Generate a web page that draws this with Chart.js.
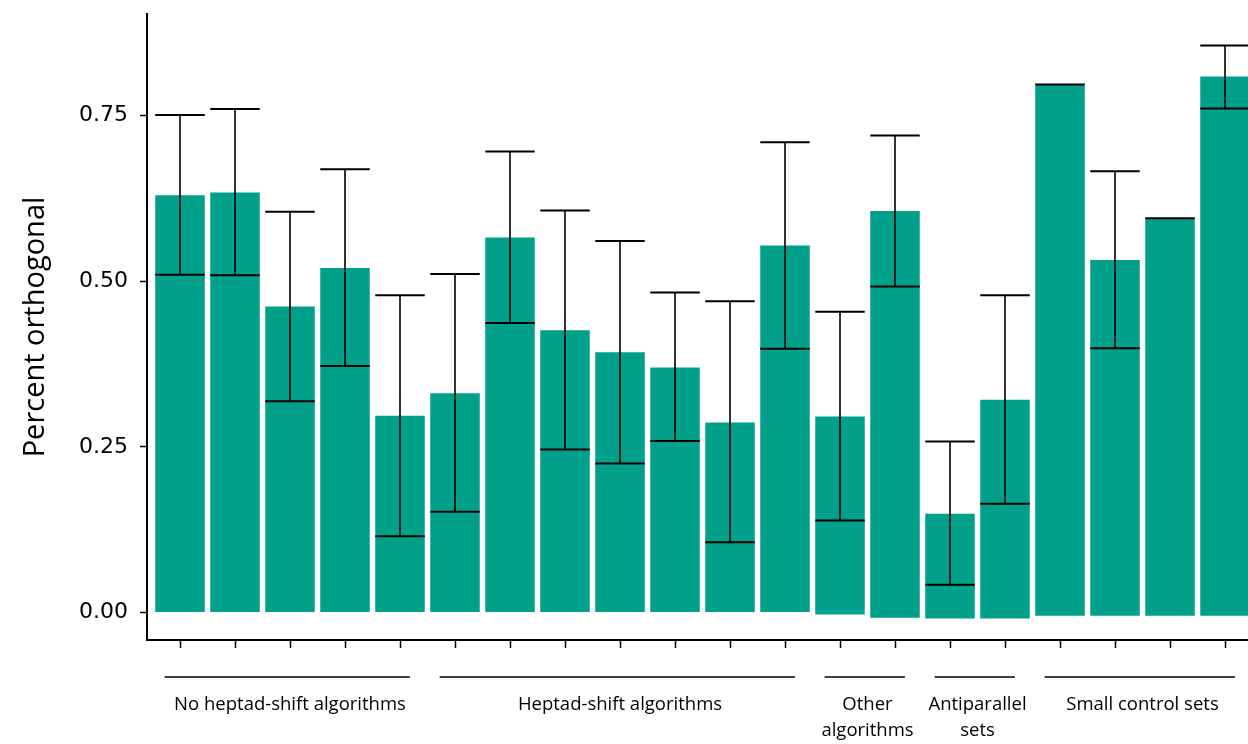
<!DOCTYPE html>
<html>
<head>
<meta charset="utf-8">
<title>Percent orthogonal by design set</title>
<script src="https://cdn.jsdelivr.net/npm/chart.js@4/dist/chart.umd.min.js"></script>
<style>
  html, body { margin: 0; padding: 0; background: #ffffff; overflow: hidden; }
  #wrap { width: 1248px; height: 744px; }
</style>
</head>
<body>
<div id="wrap"><canvas id="chart" width="1248" height="744"></canvas></div>
<script>
// Mean fraction of orthogonal pairs per design set, with interval bounds
const meanValues = [0.630, 0.634, 0.462, 0.520, 0.297, 0.331, 0.566, 0.426, 0.393, 0.370,
                    0.287, 0.554, 0.296, 0.606, 0.149, 0.321, 0.797, 0.532, 0.595, 0.809];
const errLow     = [0.510, 0.509, 0.319, 0.372, 0.115, 0.152, 0.437, 0.246, 0.225, 0.259,
                    0.106, 0.398, 0.139, 0.492, 0.042, 0.164, 0.797, 0.399, 0.595, 0.761];
const errHigh    = [0.751, 0.760, 0.605, 0.669, 0.479, 0.511, 0.696, 0.607, 0.561, 0.483,
                    0.470, 0.710, 0.454, 0.720, 0.258, 0.479, 0.797, 0.666, 0.595, 0.856];
// Bottom of each bar (a few sit slightly below zero)
const barBase    = [0, 0, 0, 0, 0, 0, 0, 0, 0, 0,
                    0, 0, -0.003, -0.008, -0.009, -0.009, -0.005, -0.005, -0.005, -0.005];

// Groups of bars shown under the x axis
const groupNames = [["No heptad-shift algorithms"], ["Heptad-shift algorithms"],
                    ["Other", "algorithms"], ["Antiparallel", "sets"], ["Small control sets"]];
const groupStart = [0, 5, 12, 14, 16];
const groupEnd   = [4, 11, 13, 15, 19];

const yTicks = [0, 0.25, 0.50, 0.75];

const TEAL = "#00A08A";

const barData = meanValues.map((v, i) => ({ x: i, y: [barBase[i], v] }));

// Error bars: vertical whisker plus caps spanning the bar width
const errorBarPlugin = {
  id: "errorBars",
  afterDatasetsDraw(chart) {
    const { ctx, scales: { x, y } } = chart;
    const meta = chart.getDatasetMeta(0);
    ctx.save();
    ctx.beginPath();
    ctx.rect(chart.chartArea.left, 0, chart.chartArea.right - chart.chartArea.left, chart.height);
    ctx.clip();
    ctx.strokeStyle = "#000000";
    meta.data.forEach((bar, i) => {
      const cx = x.getPixelForValue(i);
      const half = bar.width / 2;
      const yLo = y.getPixelForValue(errLow[i]);
      const yHi = y.getPixelForValue(errHigh[i]);
      ctx.lineWidth = 1.6;
      ctx.beginPath();
      ctx.moveTo(cx, yLo);
      ctx.lineTo(cx, yHi);
      ctx.stroke();
      ctx.lineWidth = 2;
      ctx.beginPath();
      ctx.moveTo(cx - half, yLo);
      ctx.lineTo(cx + half, yLo);
      ctx.moveTo(cx - half, yHi);
      ctx.lineTo(cx + half, yHi);
      ctx.stroke();
    });
    ctx.restore();
  }
};

// Group brackets and names beneath the axis
const groupLabelPlugin = {
  id: "groupLabels",
  afterDraw(chart) {
    const { ctx, scales: { x } } = chart;
    const base = chart.chartArea.bottom;
    ctx.save();
    ctx.strokeStyle = "#000000";
    ctx.fillStyle = "#000000";
    ctx.lineWidth = 1.5;
    ctx.font = "18.5px 'Open Sans'";
    ctx.textAlign = "center";
    ctx.textBaseline = "middle";
    groupNames.forEach((lines, g) => {
      const x0 = x.getPixelForValue(groupStart[g] - 0.28);
      const x1 = x.getPixelForValue(groupEnd[g] + 0.18);
      ctx.beginPath();
      ctx.moveTo(x0, base + 37);
      ctx.lineTo(x1, base + 37);
      ctx.stroke();
      const cx = (x.getPixelForValue(groupStart[g]) + x.getPixelForValue(groupEnd[g])) / 2;
      lines.forEach((t, k) => ctx.fillText(t, cx, base + 65 + k * 26));
    });
    ctx.restore();
  }
};

new Chart(document.getElementById("chart"), {
  type: "bar",
  data: {
    datasets: [{
      data: barData,
      backgroundColor: TEAL,
      borderWidth: 0,
      categoryPercentage: 1.0,
      barPercentage: 0.9
    }]
  },
  options: {
    responsive: false,
    animation: false,
    devicePixelRatio: 1,
    layout: { padding: { top: 14, right: 0, left: 0, bottom: 0 } },
    plugins: { legend: { display: false }, tooltip: { enabled: false } },
    scales: {
      x: {
        type: "linear",
        offset: false,
        min: -0.6,
        max: 19.418,
        afterBuildTicks(scale) {
          scale.ticks = meanValues.map((_, i) => ({ value: i }));
        },
        afterFit(scale) {
          scale.height = 104;
          scale.paddingLeft = 0;
          scale.paddingRight = 0;
        },
        ticks: { display: false },
        grid: { offset: false, drawOnChartArea: false, drawTicks: true, tickLength: 8, tickColor: "#000000", tickWidth: 1.5 },
        border: { display: true, color: "#000000", width: 2 }
      },
      y: {
        min: -0.0415,
        max: 0.9035,
        afterBuildTicks(scale) {
          scale.ticks = yTicks.map(v => ({ value: v }));
        },
        afterFit(scale) {
          scale.width = 147;
          scale.paddingTop = 0;
          scale.paddingBottom = 0;
        },
        ticks: {
          color: "#000000",
          padding: 12,
          font: { family: "'DejaVu Sans'", size: 22 },
          callback: v => Number(v).toFixed(2)
        },
        grid: { drawOnChartArea: false, drawTicks: true, tickLength: 7, tickColor: "#000000", tickWidth: 1.5 },
        border: { display: true, color: "#000000", width: 2 },
        title: {
          display: true,
          text: "Percent orthogonal",
          color: "#000000",
          font: { family: "'Open Sans'", size: 29 },
          padding: { top: 18, bottom: 0 }
        }
      }
    }
  },
  plugins: [errorBarPlugin, groupLabelPlugin]
});
</script>
</body>
</html>
